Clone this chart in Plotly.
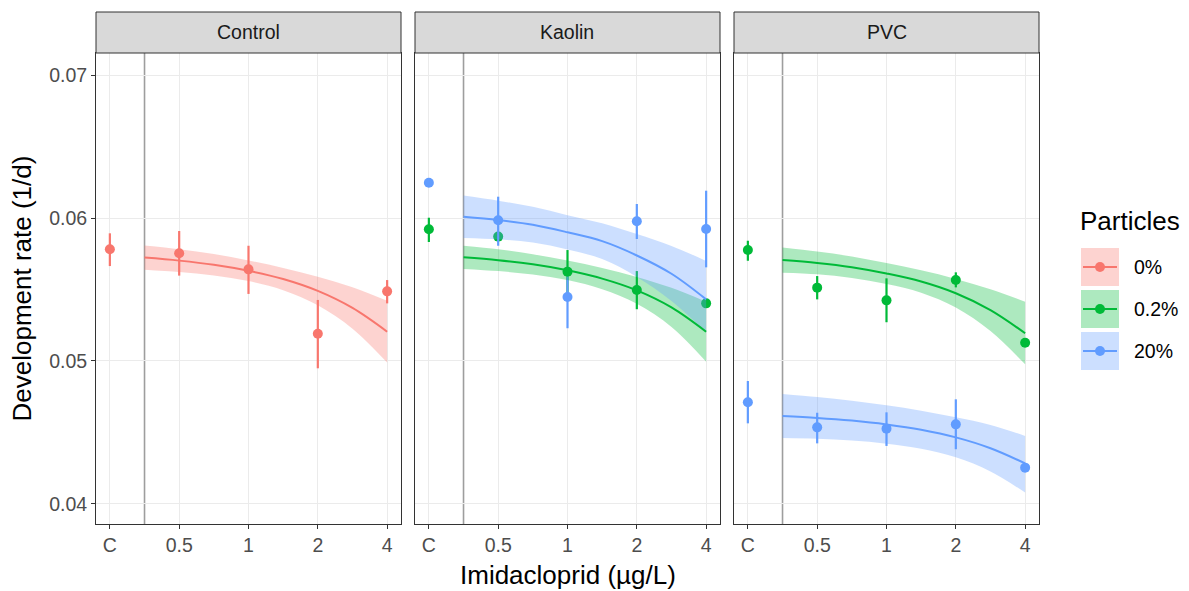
import plotly.graph_objects as go

# ---------------- data ----------------
panels = ["Control", "Kaolin", "PVC"]
tick_pos = [-2, -1, 0, 1, 2]            # log2 positions (C shown at 0.25)
tick_labels = ["C", "0.5", "1", "2", "4"]
obs_x = [-2, -1, 0, 1, 2]

colors = {"0%": "#F8766D", "0.2%": "#00BA38", "20%": "#619CFF"}
fills = {"0%": "rgba(248,118,109,0.32)", "0.2%": "rgba(0,186,56,0.32)", "20%": "rgba(97,156,255,0.32)"}

# observed means and interval bounds
ctrl_0_mean = [0.05781, 0.05753, 0.05641, 0.05191, 0.05487]
ctrl_0_hi   = [0.05893, 0.05909, 0.05806, 0.05427, 0.05566]
ctrl_0_lo   = [0.05664, 0.05597, 0.05469, 0.04949, 0.05403]

kao_02_mean = [0.05921, 0.05870, 0.05625, 0.05497, 0.05403]
kao_02_hi   = [0.06002, 0.05900, 0.05776, 0.05629, 0.05423]
kao_02_lo   = [0.05832, 0.05840, 0.05473, 0.05362, 0.05383]

kao_20_mean = [0.06247, 0.05984, 0.05448, 0.05977, 0.05923]
kao_20_hi   = [0.06257, 0.06149, 0.05590, 0.06098, 0.06191]
kao_20_lo   = [0.06237, 0.05806, 0.05229, 0.05853, 0.05655]

pvc_02_mean = [0.05776, 0.05513, 0.05424, 0.05566, 0.05128]
pvc_02_hi   = [0.05841, 0.05594, 0.05578, 0.05620, 0.05138]
pvc_02_lo   = [0.05701, 0.05431, 0.05271, 0.05515, 0.05118]

pvc_20_mean = [0.04711, 0.04536, 0.04527, 0.04557, 0.04254]
pvc_20_hi   = [0.04860, 0.04638, 0.04641, 0.04732, 0.04264]
pvc_20_lo   = [0.04564, 0.04424, 0.04406, 0.04383, 0.04244]

# fitted curves with confidence band
fit_x = [-1.5, -1, -0.5, 0, 0.5, 1, 1.5, 2]

ctrl_0_fit = [0.05723, 0.05702, 0.05673, 0.05631, 0.05573, 0.05490, 0.05371, 0.05205]
ctrl_0_up  = [0.05808, 0.05782, 0.05748, 0.05703, 0.05651, 0.05590, 0.05516, 0.05421]
ctrl_0_dn  = [0.05638, 0.05622, 0.05598, 0.05559, 0.05495, 0.05390, 0.05226, 0.04989]

kao_02_fit = [0.05725, 0.05705, 0.05676, 0.05634, 0.05576, 0.05494, 0.05375, 0.05205]
kao_02_up  = [0.05806, 0.05781, 0.05747, 0.05702, 0.05650, 0.05588, 0.05512, 0.05415]
kao_02_dn  = [0.05644, 0.05629, 0.05605, 0.05566, 0.05502, 0.05400, 0.05238, 0.04995]

kao_20_fit = [0.06009, 0.05986, 0.05953, 0.05900, 0.05838, 0.05738, 0.05610, 0.05431]
kao_20_up  = [0.06157, 0.06121, 0.06078, 0.06020, 0.05963, 0.05888, 0.05805, 0.05700]
kao_20_dn  = [0.05861, 0.05851, 0.05828, 0.05780, 0.05713, 0.05588, 0.05420, 0.05200]

pvc_02_fit = [0.05706, 0.05686, 0.05656, 0.05612, 0.05556, 0.05474, 0.05356, 0.05194]
pvc_02_up  = [0.05794, 0.05765, 0.05731, 0.05685, 0.05634, 0.05574, 0.05502, 0.05415]
pvc_02_dn  = [0.05618, 0.05607, 0.05581, 0.05539, 0.05478, 0.05374, 0.05210, 0.04977]

pvc_20_fit = [0.04615, 0.04602, 0.04583, 0.04556, 0.04519, 0.04466, 0.04390, 0.04284]
pvc_20_up  = [0.04769, 0.04748, 0.04722, 0.04690, 0.04652, 0.04606, 0.04553, 0.04476]
pvc_20_dn  = [0.04461, 0.04456, 0.04444, 0.04422, 0.04386, 0.04326, 0.04227, 0.04080]

series = [
    # panel index, group, mean, hi, lo, fit, up, dn
    (0, "0%", ctrl_0_mean, ctrl_0_hi, ctrl_0_lo, ctrl_0_fit, ctrl_0_up, ctrl_0_dn),
    (1, "0.2%", kao_02_mean, kao_02_hi, kao_02_lo, kao_02_fit, kao_02_up, kao_02_dn),
    (1, "20%", kao_20_mean, kao_20_hi, kao_20_lo, kao_20_fit, kao_20_up, kao_20_dn),
    (2, "0.2%", pvc_02_mean, pvc_02_hi, pvc_02_lo, pvc_02_fit, pvc_02_up, pvc_02_dn),
    (2, "20%", pvc_20_mean, pvc_20_hi, pvc_20_lo, pvc_20_fit, pvc_20_up, pvc_20_dn),
]

# ---------------- layout geometry ----------------
W, H = 1189, 591
FONT = "Liberation Sans, Arial, sans-serif"
TICK_SIZE = 19.5
TITLE_SIZE = 26
panel_px = [(96, 401), (415, 720), (734, 1039)]
top_px, bot_px = 53, 524
strip_top = 12

def fx(p): return p / W
def fy(p): return 1 - p / H

fig = go.Figure()

def axn(i): return "" if i == 0 else str(i + 1)

# points with error bars first
for (pi, g, m, hi, lo, fit, up, dn) in series:
    fig.add_trace(go.Scatter(
        x=obs_x, y=m, mode="markers",
        marker=dict(color=colors[g], size=10),
        error_y=dict(type="data", symmetric=False,
                     array=[h - v for h, v in zip(hi, m)],
                     arrayminus=[v - l for v, l in zip(m, lo)],
                     color=colors[g], thickness=2.2, width=0),
        xaxis="x" + axn(pi), yaxis="y" + axn(pi), showlegend=False, hoverinfo="skip"))

# ribbons
for (pi, g, m, hi, lo, fit, up, dn) in series:
    fig.add_trace(go.Scatter(x=fit_x, y=dn, mode="lines", line=dict(width=0, shape="spline"),
                             xaxis="x" + axn(pi), yaxis="y" + axn(pi), showlegend=False, hoverinfo="skip"))
    fig.add_trace(go.Scatter(x=fit_x, y=up, mode="lines", line=dict(width=0, shape="spline"),
                             fill="tonexty", fillcolor=fills[g],
                             xaxis="x" + axn(pi), yaxis="y" + axn(pi), showlegend=False, hoverinfo="skip"))

# fitted lines
for (pi, g, m, hi, lo, fit, up, dn) in series:
    fig.add_trace(go.Scatter(x=fit_x, y=fit, mode="lines",
                             line=dict(color=colors[g], width=2, shape="spline"),
                             xaxis="x" + axn(pi), yaxis="y" + axn(pi), showlegend=False, hoverinfo="skip"))

layout = dict(
    width=W, height=H, margin=dict(l=0, r=0, t=0, b=0),
    paper_bgcolor="white", plot_bgcolor="white",
    font=dict(family=FONT, color="#000000"),
    showlegend=False,
)
y_range = [0.0386, 0.07154]
for i, (l, r) in enumerate(panel_px):
    n = axn(i)
    layout["xaxis" + n] = dict(
        domain=[fx(l), fx(r)], range=[-2.2, 2.2], anchor="y" + n,
        tickmode="array", tickvals=tick_pos, ticktext=tick_labels,
        showgrid=True, gridcolor="#EBEBEB", gridwidth=1, zeroline=False,
        showline=True, mirror=True, linecolor="#333333", linewidth=1,
        ticks="outside", ticklen=4, tickwidth=1, tickcolor="#333333",
        tickfont=dict(size=TICK_SIZE, color="#4D4D4D", family=FONT),
    )
    ya = dict(
        domain=[fy(bot_px), fy(top_px)], range=y_range, anchor="x" + n,
        tickmode="array", tickvals=[0.04, 0.05, 0.06, 0.07],
        ticktext=["0.04", "0.05", "0.06", "0.07"],
        showgrid=True, gridcolor="#EBEBEB", gridwidth=1, zeroline=False,
        showline=True, mirror=True, linecolor="#333333", linewidth=1,
        tickfont=dict(size=TICK_SIZE, color="#4D4D4D", family=FONT),
    )
    if i == 0:
        ya.update(ticks="outside", ticklen=4, tickwidth=1, tickcolor="#333333")
    else:
        ya.update(showticklabels=False, ticks="", matches="y")
    layout["yaxis" + n] = ya
fig.update_layout(**layout)

shapes = []
annotations = []
for i, (l, r) in enumerate(panel_px):
    n = axn(i)
    # vertical separator between control and doses
    shapes.append(dict(type="line", xref="x" + n, yref="y" + n + " domain" if n else "y domain",
                       x0=-1.5, x1=-1.5, y0=0, y1=1, line=dict(color="#9E9E9E", width=1.6),
                       layer="below"))
    # strip
    shapes.append(dict(type="rect", xref="paper", yref="paper",
                       x0=fx(l), x1=fx(r), y0=fy(top_px), y1=fy(strip_top),
                       fillcolor="#D9D9D9", line=dict(color="#333333", width=1)))
    annotations.append(dict(text=panels[i], xref="paper", yref="paper",
                            x=(fx(l) + fx(r)) / 2, y=(fy(top_px) + fy(strip_top)) / 2,
                            showarrow=False, font=dict(size=TICK_SIZE, color="#1A1A1A", family=FONT),
                            xanchor="center", yanchor="middle"))

# axis titles
annotations.append(dict(text="Imidacloprid (µg/L)", xref="paper", yref="paper",
                        x=fx((96 + 1039) / 2), y=fy(575), showarrow=False,
                        font=dict(size=TITLE_SIZE, color="#000000", family=FONT),
                        xanchor="center", yanchor="middle"))
annotations.append(dict(text="Development rate (1/d)", xref="paper", yref="paper",
                        x=fx(21), y=fy((top_px + bot_px) / 2), showarrow=False, textangle=-90,
                        font=dict(size=TITLE_SIZE, color="#000000", family=FONT),
                        xanchor="center", yanchor="middle"))

# manual legend
legend_groups = ["0%", "0.2%", "20%"]
annotations.append(dict(text="Particles", xref="paper", yref="paper",
                        x=fx(1078), y=fy(221), showarrow=False,
                        font=dict(size=TITLE_SIZE, color="#000000", family=FONT),
                        xanchor="left", yanchor="middle"))
key_tops = [248, 290, 332]
for g, kt in zip(legend_groups, key_tops):
    kb = kt + 38
    shapes.append(dict(type="rect", xref="paper", yref="paper",
                       x0=fx(1081), x1=fx(1119), y0=fy(kb), y1=fy(kt),
                       fillcolor=fills[g], line=dict(width=0)))
    ym = fy((kt + kb) / 2)
    shapes.append(dict(type="line", xref="paper", yref="paper",
                       x0=fx(1083), x1=fx(1117), y0=ym, y1=ym,
                       line=dict(color=colors[g], width=2)))
    shapes.append(dict(type="circle", xref="paper", yref="paper",
                       x0=fx(1095), x1=fx(1105), y0=fy((kt + kb) / 2 + 5), y1=fy((kt + kb) / 2 - 5),
                       fillcolor=colors[g], line=dict(width=0)))
    annotations.append(dict(text=g, xref="paper", yref="paper",
                            x=fx(1132), y=ym, showarrow=False,
                            font=dict(size=TICK_SIZE, color="#000000", family=FONT),
                            xanchor="left", yanchor="middle"))

fig.update_layout(shapes=shapes, annotations=annotations)
fig.write_html("out.html")
